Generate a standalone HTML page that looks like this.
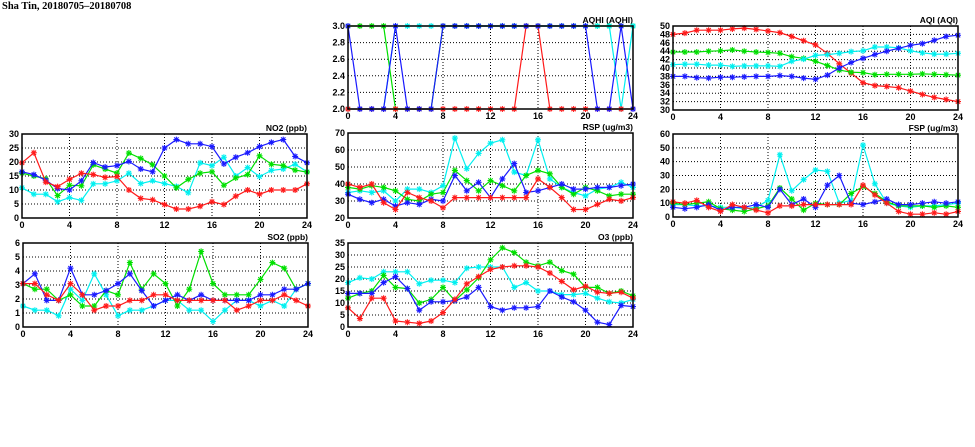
<!DOCTYPE html>
<html><head><meta charset="utf-8"><style>
body{margin:0;background:#fff;width:975px;height:447px;overflow:hidden}
svg{display:block}
text{font-family:"Liberation Sans",sans-serif;font-weight:bold;font-size:9px;fill:#000}
</style></head><body>
<svg id="s" width="975" height="447" xmlns="http://www.w3.org/2000/svg">
<text x="2" y="9" style="font-family:'Liberation Serif',serif;font-size:10.5px;font-weight:bold">Sha Tin, 20180705–20180708</text>
</svg>
<script>
const S=document.getElementById('s');const NS='http://www.w3.org/2000/svg';
function el(t,a,txt){const e=document.createElementNS(NS,t);for(const k in a)e.setAttribute(k,a[k]);if(txt!==undefined)e.textContent=txt;S.appendChild(e);return e;}
const C={r:'#ff1a1a',g:'#00e000',b:'#1a1aff',c:'#00f0f0'};
const panels=[
{t:'AQHI (AQHI)',x:348,y:26,w:285,h:83,min:2,max:3,step:0.2,dec:1,order:['g','c','r','b'],d:{
g:[3,3,3,3,2,2,2,2,3,3,3,3,3,3,3,3,3,3,3,3,3,3,3,3,3],
c:[2,2,2,2,3,3,3,3,3,3,3,3,3,3,3,3,3,3,3,3,3,3,3,2,3],
r:[2,2,2,2,2,2,2,2,2,2,2,2,2,2,2,3,3,2,2,2,2,2,2,2,2],
b:[3,2,2,2,3,2,2,2,3,3,3,3,3,3,3,3,3,3,3,3,3,2,2,3,2]}},
{t:'AQI (AQI)',x:673,y:26,w:285,h:84,min:30,max:50,step:2,dec:0,order:['r','g','c','b'],d:{
r:[48,48.3,49,49,49,49.3,49.5,49.2,48.8,48.4,47.5,46.5,45.5,43.5,41,38.8,36.5,35.8,35.6,35.3,34.5,33.7,33,32.5,32],
g:[43.8,43.8,43.8,44,44.1,44.3,44,43.8,43.7,43.5,42.7,42.3,41.6,40.6,39.5,39,38.9,38.4,38.5,38.5,38.5,38.6,38.5,38.4,38.3],
c:[40.8,40.9,40.9,40.7,40.7,40.4,40.5,40.5,40.5,40.4,41.6,42.1,43,43.2,43.5,43.9,44.1,45,45,44.8,44.1,43.6,43.3,43.3,43.5],
b:[38,38,37.7,37.6,37.8,37.8,37.9,38,38,38.2,38,37.6,37.3,38.3,40,41.3,42.3,43.2,44,44.7,45.4,45.8,46.6,47.5,47.8]}},
{t:'NO2 (ppb)',x:22,y:134,w:285,h:84,min:0,max:30,step:5,dec:0,order:['c','g','b','r'],d:{
b:[16.5,15.5,13.5,10.5,10,13.3,19.8,18.2,18.7,20.2,17.5,16.5,25,28,26.5,26.5,25.5,19.3,21.7,23.3,25.5,27,28,22,19.7],
g:[16,15,14,8,11.7,11.5,19,17.5,16,23.2,21.3,19,15,10.8,13.8,16,16.5,11.7,14.3,15.5,22.2,19.2,18.7,17.1,16.4],
c:[10.8,8.5,8.5,5.8,7.3,6.3,12.2,12.2,13.3,16,12.3,13.3,12.3,11.3,9,19.7,18.7,21.7,15,18,14.8,17,17.5,19.2,16.5],
r:[19.7,23.3,12.8,11.2,13.8,16,15.5,14.5,14.8,10,7,6.5,4.8,3.2,3.2,4.2,5.8,4.8,7.8,10,8.5,10,10,10,12.2]}},
{t:'RSP (ug/m3)',x:348,y:133,w:285,h:85,min:20,max:70,step:10,dec:0,order:['c','g','b','r'],d:{
c:[35,36,35,36,30,37,37,35,39,67,49,58,64,66,47,45,66,43,38,35,33,37,38,41,38],
g:[38,37,39,38,36,31,30,34,35,48,42,36,42,39,36,45,48,46,38,34,38,36,33,34,34],
b:[34,31,29,31,27,29,28,31,30,45,36,41,32,43,52,35,36,38,40,37,37,38,38,39,40],
r:[40,38,40,29,25,35,32,30,26,32,32,32,32,32,32,32,43,38,32,25,25,28,31,30,32]}},
{t:'FSP (ug/m3)',x:673,y:134,w:285,h:83,min:0,max:60,step:10,dec:0,order:['c','g','b','r'],d:{
c:[9,9,8,8,7,7,6,7,12,45,19,27,34,33,10,12,52,24,10,8,7,8,8,9,10],
g:[10,9,10,11,6,5,4,6,8,21,13,5,10,9,9,17,22,17,11,8,8,8,7,8,7],
b:[7,6,7,9,5,7,7,9,7,20,9,13,7,23,30,10,9,11,13,9,9,10,11,10,11],
r:[11,10,12,7,4,9,7,5,3,8,8,9,9,9,9,9,23,16,10,4,2,2,3,2,4]}},
{t:'SO2 (ppb)',x:23,y:243,w:285,h:84,min:0,max:6,step:1,dec:0,order:['c','g','b','r'],d:{
b:[3.1,3.8,1.9,1.9,4.2,2.3,2.3,2.6,3.1,3.8,2.6,1.5,1.9,2.3,1.9,2.3,1.9,1.9,1.9,1.9,2.3,2.3,2.7,2.7,3.1],
g:[3.1,2.7,2.7,1.9,2.3,1.5,1.5,2.6,2.3,4.6,2.7,3.8,3.1,1.5,2.7,5.4,3.1,2.3,2.3,2.3,3.4,4.6,4.2,2.7,3.1],
c:[1.5,1.2,1.2,0.8,2.7,1.9,3.8,2.3,0.8,1.2,1.2,1.5,1.9,1.9,1.2,1.2,0.4,1.2,1.9,1.9,1.5,1.9,1.5,2.7,3.1],
r:[3.1,3.1,2.3,1.9,3.1,2.3,1.2,1.5,1.5,1.9,1.9,2.3,2.3,1.9,1.9,1.9,1.9,1.9,1.2,1.5,1.9,1.9,2.3,1.9,1.5]}},
{t:'O3 (ppb)',x:348,y:243,w:285,h:84,min:0,max:35,step:5,dec:0,order:['c','g','b','r'],d:{
c:[18.5,20.5,20,23,23,23,18,19.5,19.5,18.5,24.5,25,25,25,16.5,18.5,15,15,13.5,13.5,14,12,10.5,10,11.5],
g:[12,14,15,21.5,16.5,16,10,11.5,16.5,11,15.5,20.5,28,33,31,27,25.5,27,23.5,22,16.5,16.5,14,15,13],
b:[14,14,14,18.5,21,16,7,10.5,10.5,11,12.5,16.5,8.5,7,8,8,8.5,15,12.5,10.5,7,2,1,9,8.5],
r:[8,3.5,12,12,2.5,2,1.5,2.5,6,11.5,18,21,24,25,25.5,25.5,25,22.5,19,15.5,17,14.5,14,14.5,12]}}
];
for(const p of panels){
 const X=i=>p.x+p.w*i/24, Y=v=>p.y+p.h*(1-(v-p.min)/(p.max-p.min));
 const n=Math.round((p.max-p.min)/p.step);
 for(let k=0;k<=n;k++){const v=p.min+k*p.step,y=Y(v);
  if(k>0&&k<n)el('line',{x1:p.x,x2:p.x+p.w,y1:y,y2:y,stroke:'#000','stroke-width':1,'stroke-dasharray':'1,2'});
  el('text',{x:p.x-3,y:y+3,'text-anchor':'end'},v.toFixed(p.dec));}
 for(let h=0;h<=24;h+=4){const x=X(h);
  if(h>0&&h<24)el('line',{x1:x,x2:x,y1:p.y,y2:p.y+p.h,stroke:'#000','stroke-width':1,'stroke-dasharray':'1,2'});
  el('text',{x:x,y:p.y+p.h+10,'text-anchor':'middle'},String(h));}
 el('text',{x:p.x+p.w,y:p.y-3,'text-anchor':'end',style:'font-size:8.5px'},p.t);
 for(const s of p.order){const a=p.d[s];
  el('polyline',{points:a.map((v,i)=>X(i).toFixed(1)+','+Y(v).toFixed(1)).join(' '),fill:'none',stroke:C[s],'stroke-width':1.2});
  a.forEach((v,i)=>{const x=X(i),y=Y(v),r=3;
   el('path',{d:`M${x-r},${y}H${x+r}M${x},${y-r}V${y+r}M${x-2.2},${y-2.2}L${x+2.2},${y+2.2}M${x-2.2},${y+2.2}L${x+2.2},${y-2.2}`,stroke:C[s],'stroke-width':1.1});});}
 el('rect',{x:p.x,y:p.y,width:p.w,height:p.h,fill:'none',stroke:'#000','stroke-width':1.5});
}
</script>
</body></html>
